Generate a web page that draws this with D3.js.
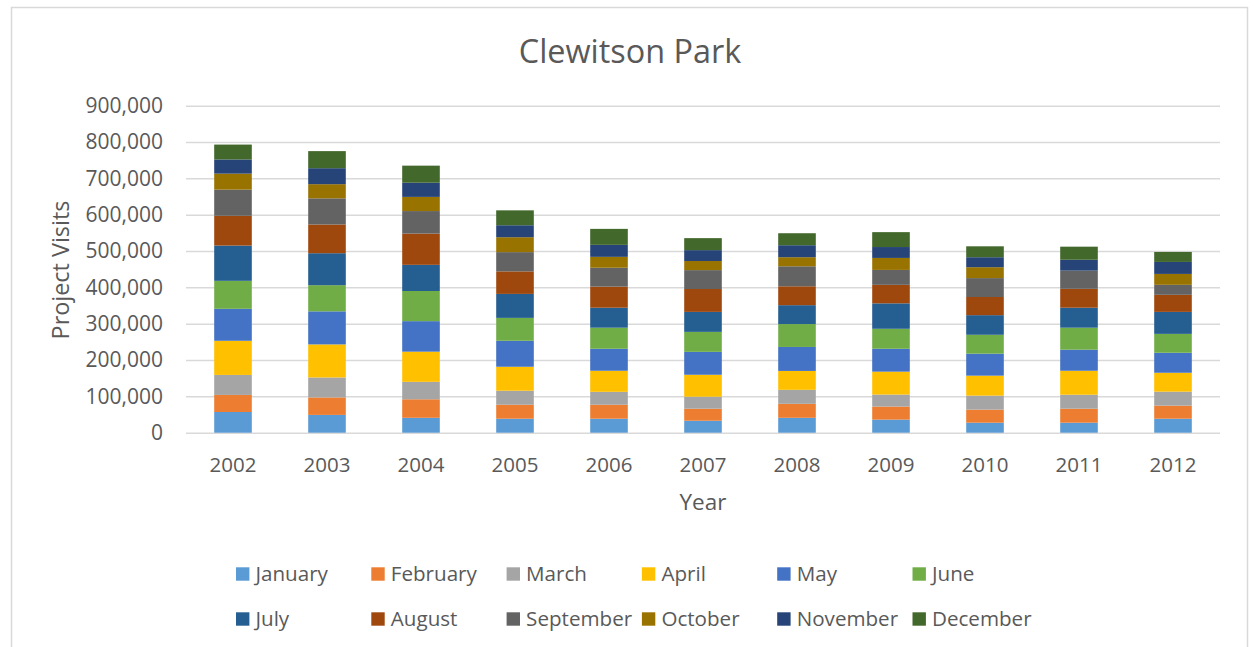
<!DOCTYPE html>
<html>
<head>
<meta charset="utf-8">
<script src="https://cdn.jsdelivr.net/npm/d3@7"></script>
<style>
  html, body { margin: 0; padding: 0; background: #ffffff; }
  svg { display: block; }
  text { font-family: "Open Sans", "Noto Sans", sans-serif; fill: #595959; }
</style>
</head>
<body>
<svg id="chart" width="1253" height="647"></svg>
<script>
// Yearly project visits, split by month
const years = ["2002", "2003", "2004", "2005", "2006", "2007", "2008", "2009", "2010", "2011", "2012"];
const months = ["January", "February", "March", "April", "May", "June",
                "July", "August", "September", "October", "November", "December"];

const january   = [57000, 49000, 41000, 38500, 38500, 33000, 41000, 36000, 27500, 27500, 38500];
const february  = [47000, 48000, 51000, 38500, 38500, 33000, 38500, 36000, 36000, 38500, 36000];
const march     = [55000, 55000, 48000, 38500, 35500, 33000, 38500, 33000, 38500, 38500, 38500];
const april     = [94000, 91000, 83000, 66000, 58000, 60500, 52000, 63000, 55000, 66000, 52000];
const may       = [88000, 91000, 84000, 71500, 60500, 63000, 66000, 63000, 60500, 58000, 55000];
const june      = [77000, 72000, 83000, 63000, 58000, 55000, 63000, 55000, 52000, 60500, 52000];
const july      = [97000, 88000, 72000, 66000, 55000, 55000, 52000, 70000, 54000, 55000, 60500];
const august    = [82000, 79000, 86000, 62000, 58000, 63000, 52000, 51000, 50000, 52000, 47000];
const september = [72000, 72000, 62000, 53000, 52000, 52000, 55000, 41000, 52000, 50000, 27500];
const october   = [44000, 39000, 39000, 41000, 30000, 25000, 25000, 33000, 30000, 0, 30000];
const november  = [39000, 44000, 39000, 33000, 33000, 30000, 33000, 30000, 27500, 30000, 33000];
const december  = [41000, 47000, 47000, 41000, 44000, 33000, 33000, 41000, 30000, 36000, 27500];

const yTicks = [0, 100000, 200000, 300000, 400000, 500000, 600000, 700000, 800000, 900000];

const colors = ["#5B9BD5", "#ED7D31", "#A5A5A5", "#FFC000", "#4472C4", "#70AD47",
                "#255E91", "#9E480E", "#636363", "#997300", "#264478", "#43682B"];

const seriesByMonth = [january, february, march, april, may, june,
                       july, august, september, october, november, december];

// Row per year for the stack layout
const table = years.map((yr, i) => {
  const row = { year: yr };
  months.forEach((m, j) => { row[m] = seriesByMonth[j][i]; });
  return row;
});

const svg = d3.select("#chart");

// Chart frame
svg.append("rect")
  .attr("x", 11.5).attr("y", 7.5)
  .attr("width", 1236).attr("height", 700)
  .attr("fill", "#ffffff")
  .attr("stroke", "#d9d9d9")
  .attr("stroke-width", 1.5);

const plotLeft = 186, plotRight = 1220, plotBottom = 432.7, plotTop = 105.7;

const x = d3.scaleBand()
  .domain(years)
  .range([plotLeft, plotRight])
  .paddingInner(0.6)
  .paddingOuter(0.3);

const y = d3.scaleLinear()
  .domain([0, 900000])
  .range([plotBottom, plotTop]);

const color = d3.scaleOrdinal().domain(months).range(colors);

// Y axis with gridlines
const yAxis = svg.append("g")
  .attr("transform", `translate(${plotLeft},0)`)
  .call(d3.axisLeft(y)
    .tickValues(yTicks)
    .tickFormat(d3.format(","))
    .tickSize(-(plotRight - plotLeft))
    .tickPadding(23));
yAxis.select(".domain").remove();
yAxis.selectAll(".tick line").attr("stroke", "#d9d9d9").attr("stroke-width", 1.5);
yAxis.selectAll(".tick text").attr("font-size", 21).attr("fill", "#595959")
  .style("font-family", "'Open Sans', sans-serif");

// Stacked bars
const stacked = d3.stack().keys(months)(table);

svg.append("g")
  .selectAll("g")
  .data(stacked)
  .join("g")
    .attr("fill", d => color(d.key))
  .selectAll("rect")
  .data(d => d)
  .join("rect")
    .attr("x", d => x(d.data.year))
    .attr("width", x.bandwidth())
    .attr("y", d => y(d[1]))
    .attr("height", d => y(d[0]) - y(d[1]));

// X axis labels
const xAxis = svg.append("g")
  .attr("transform", `translate(0,${plotBottom})`)
  .call(d3.axisBottom(x).tickSize(0).tickPadding(24.6));
xAxis.select(".domain").remove();
xAxis.selectAll(".tick text").attr("font-size", 20.5).attr("fill", "#595959")
  .style("font-family", "'Open Sans', sans-serif");

// Title
svg.append("text")
  .attr("x", 630).attr("y", 63)
  .attr("text-anchor", "middle")
  .attr("font-size", 32.4)
  .text("Clewitson Park");

// Axis titles
svg.append("text")
  .attr("transform", "translate(69,270) rotate(-90)")
  .attr("text-anchor", "middle")
  .attr("font-size", 23.4)
  .text("Project Visits");

svg.append("text")
  .attr("x", (plotLeft + plotRight) / 2).attr("y", 510)
  .attr("text-anchor", "middle")
  .attr("font-size", 22.5)
  .text("Year");

// Legend: two rows of six
const legend = svg.append("g")
  .selectAll("g")
  .data(months)
  .join("g")
    .attr("transform", (d, i) => `translate(${236 + (i % 6) * 135.3},${567.3 + Math.floor(i / 6) * 45})`);

legend.append("rect")
  .attr("width", 13.4).attr("height", 13.4)
  .attr("fill", d => color(d));

legend.append("text")
  .attr("x", 19.5).attr("y", 13.7)
  .attr("font-size", 20.6)
  .text(d => d);
</script>
</body>
</html>
